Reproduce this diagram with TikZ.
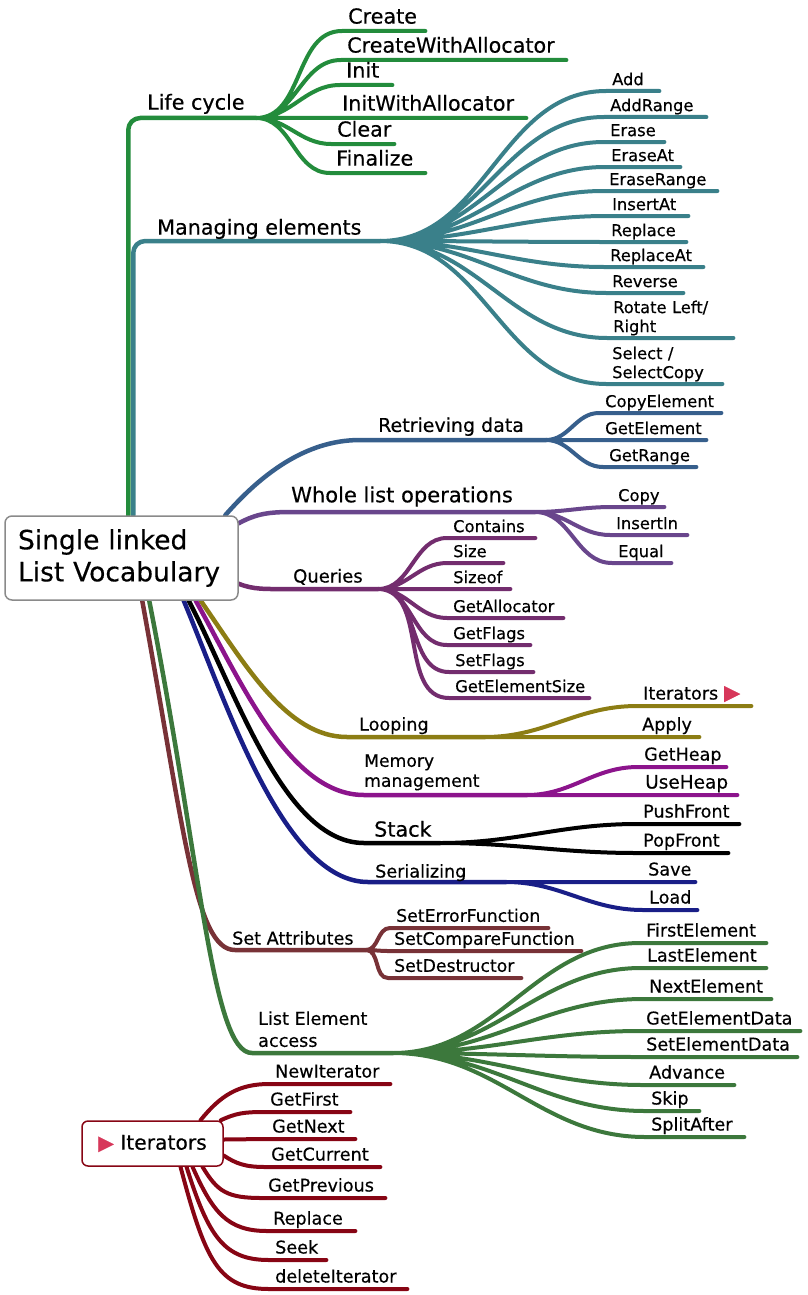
\documentclass[tikz,border=0pt]{standalone}
\usepackage{fontspec}
\setmainfont{DejaVu Sans}[FakeBold=0.4]
\usetikzlibrary{backgrounds}
\hyphenpenalty=10000
\exhyphenpenalty=10000

\definecolor{lcgreen}{HTML}{238C3C}
\definecolor{meteal}{HTML}{3A808A}
\definecolor{rdblue}{HTML}{375F8C}
\definecolor{wlpurple}{HTML}{69468C}
\definecolor{qupurple}{HTML}{732D6E}
\definecolor{lpolive}{HTML}{8C7D14}
\definecolor{mmmagenta}{HTML}{8C148C}
\definecolor{senavy}{HTML}{191E87}
\definecolor{sabrown}{HTML}{783237}
\definecolor{legreen}{HTML}{3C783C}
\definecolor{itred}{HTML}{870514}
\definecolor{trired}{HTML}{D7375A}
\definecolor{rootgray}{HTML}{8A8A8A}

\tikzset{
    branch/.style={line width=4.5pt, line cap=round, line join=round},
    twig/.style={line width=4pt, line cap=round, line join=round},
    topic/.style={anchor=south west, inner sep=0pt, align=left, execute at end node=\strut},
    leaf/.style={anchor=south west, inner xsep=6pt, inner ysep=0pt, align=left, execute at end node=\strut},
    bigfont/.style={font=\fontsize{20.7}{24}\selectfont},
    midfont/.style={font=\fontsize{17.6}{21}\selectfont},
    smallfont/.style={font=\fontsize{16.3}{19}\selectfont},
    rootbox/.style={draw=rootgray, line width=1.5pt, rounded corners=7pt, fill=white,
        minimum width=233pt, minimum height=84pt, text width=207pt, inner xsep=13pt,
        align=left, font=\fontsize{26.5}{32}\selectfont},
    itbox/.style={draw=itred, line width=1.5pt, rounded corners=6pt, fill=white,
        minimum width=141pt, minimum height=45pt, font=\fontsize{20.3}{23}\selectfont},
}

\begin{document}
\begin{tikzpicture}[x=1pt, y=-1pt]
\useasboundingbox (0,0) rectangle (807,1295);

\node[rootbox] (root) at (121.5,558) {Single linked\\List Vocabulary};
\node[itbox] (itbox) at (152.5,1143.5) {{\color{trired}▶} Iterators};

\coordinate (lc) at (256,118);
\coordinate (me) at (380,241);
\coordinate (rd) at (546,440);
\coordinate (wl) at (535,512);
\coordinate (qu) at (378,589);
\coordinate (lp) at (485,737);
\coordinate (mm) at (527,795);
\coordinate (sk) at (440,843);
\coordinate (se) at (506,882);
\coordinate (sa) at (366,950);
\coordinate (le) at (393,1053);

\node[topic, bigfont] (lifecycle) at (147,117) {Life cycle};
\node[topic, bigfont] (managing) at (157,242) {Managing elements};
\node[topic, font=\fontsize{19}{23}\selectfont] (retrieving) at (378,439) {Retrieving data};
\node[topic, font=\fontsize{21}{25}\selectfont] (wholelist) at (291,510) {Whole list operations};
\node[topic, font=\fontsize{18}{21}\selectfont] (queries) at (293,589) {Queries};
\node[topic, midfont] (looping) at (359,737) {Looping};
\node[topic, font=\fontsize{17.2}{20}\selectfont] (memory) at (364,793) {Memory\\management};
\node[topic, bigfont] (stack) at (374,844) {Stack};
\node[topic, midfont] (serializing) at (375,884) {Serializing};
\node[topic, midfont] (setattr) at (232,951) {Set Attributes};
\node[topic, font=\fontsize{17.6}{22}\selectfont] (listelement) at (258,1053.6) {List Element\\access};

\node[leaf, bigfont, text width=71pt] (create) at (342,31) {Create};
\node[leaf, bigfont, text width=213pt] (createwa) at (341,60) {CreateWithAllocator};
\node[leaf, bigfont, text width=40pt] (init) at (340,85) {Init};
\node[leaf, bigfont, text width=178pt] (initwa) at (336,118) {InitWithAllocator};
\node[leaf, bigfont, text width=51pt] (clear) at (331,144) {Clear};
\node[leaf, bigfont, text width=83pt] (finalize) at (330,173) {Finalize};

\node[leaf, smallfont, text width=41pt] (add) at (606,91) {Add};
\node[leaf, smallfont, text width=90pt] (addrange) at (604,117) {AddRange};
\node[leaf, smallfont, text width=48pt] (erase) at (604,142) {Erase};
\node[leaf, smallfont, text width=63pt] (eraseat) at (605,167) {EraseAt};
\node[leaf, smallfont, text width=102pt] (eraserange) at (603,191) {EraseRange};
\node[leaf, smallfont, text width=70pt] (insertat) at (606,216) {InsertAt};
\node[leaf, smallfont, text width=69pt] (replace) at (605,242) {Replace};
\node[leaf, smallfont, text width=87pt] (replaceat) at (604,267) {ReplaceAt};
\node[leaf, smallfont, text width=65pt] (reverse) at (606,293) {Reverse};
\node[leaf, smallfont, text width=114pt] (rotate) at (607,338) {Rotate Left/\\Right};
\node[leaf, smallfont, text width=104pt] (select) at (606,384) {Select /\\SelectCopy};

\node[leaf, smallfont, text width=110pt] (copyelement) at (599,413) {CopyElement};
\node[leaf, smallfont, text width=95pt] (getelement) at (599,440) {GetElement};
\node[leaf, smallfont, text width=81pt] (getrange) at (603,467) {GetRange};

\node[leaf, smallfont, text width=40pt] (copy) at (612,507) {Copy};
\node[leaf, smallfont, text width=65pt] (insertin) at (610,535) {InsertIn};
\node[leaf, smallfont, text width=47pt] (equal) at (612,563) {Equal};

\node[leaf, smallfont, text width=76pt] (contains) at (447,538) {Contains};
\node[leaf, smallfont, text width=44pt] (size) at (447,563) {Size};
\node[leaf, smallfont, text width=51pt] (sizeof) at (447,589) {Sizeof};
\node[leaf, smallfont, text width=104pt] (getallocator) at (447,618) {GetAllocator};
\node[leaf, smallfont, text width=71pt] (getflags) at (447,645) {GetFlags};
\node[leaf, smallfont, text width=72pt] (setflags) at (449,672) {SetFlags};
\node[leaf, smallfont, text width=128pt] (getelementsize) at (449,698) {GetElementSize};

\node[leaf, midfont, text width=102pt] (iterlink) at (637,706) {Iterators {\fontsize{21}{21}\selectfont\color{trired}▶}};
\node[leaf, midfont, text width=51pt] (apply) at (636,737) {Apply};

\node[leaf, midfont, text width=76pt] (getheap) at (638,767) {GetHeap};
\node[leaf, font=\fontsize{18.5}{21}\selectfont, text width=86pt] (useheap) at (639,795) {UseHeap};

\node[leaf, midfont, text width=90pt] (pushfront) at (637,824) {PushFront};
\node[leaf, midfont, text width=79pt] (popfront) at (637,853) {PopFront};

\node[leaf, midfont, text width=41pt] (save) at (642,882) {Save};
\node[leaf, midfont, text width=42pt] (load) at (643,910) {Load};

\node[leaf, font=\fontsize{17.3}{20}\selectfont, text width=146pt] (seterror) at (390,928) {SetErrorFunction};
\node[leaf, font=\fontsize{17.3}{20}\selectfont, text width=181pt] (setcompare) at (388,951) {SetCompareFunction};
\node[leaf, font=\fontsize{17.3}{20}\selectfont, text width=121pt] (setdestructor) at (388,978) {SetDestructor};

\node[leaf, midfont, text width=114pt] (firstelement) at (640,943) {FirstElement};
\node[leaf, midfont, text width=113pt] (lastelement) at (641,968) {LastElement};
\node[leaf, midfont, text width=116pt] (nextelement) at (643,999) {NextElement};
\node[leaf, midfont, text width=148pt] (getelementdata) at (640,1031) {GetElementData};
\node[leaf, midfont, text width=145pt] (setelementdata) at (640,1057) {SetElementData};
\node[leaf, midfont, text width=79pt] (advance) at (643,1085) {Advance};
\node[leaf, midfont, text width=42pt] (skip) at (645,1111) {Skip};
\node[leaf, midfont, text width=87pt] (splitafter) at (645,1137) {SplitAfter};

\node[leaf, midfont, text width=109pt] (newiter) at (269,1084) {NewIterator};
\node[leaf, midfont, text width=74pt] (getfirst) at (264,1112) {GetFirst};
\node[leaf, midfont, text width=77pt] (getnext) at (266,1139) {GetNext};
\node[leaf, midfont, text width=103pt] (getcurrent) at (265,1167) {GetCurrent};
\node[leaf, midfont, text width=111pt] (getprevious) at (262,1198) {GetPrevious};
\node[leaf, midfont, text width=76pt] (itreplace) at (267,1231) {Replace};
\node[leaf, midfont, text width=45pt] (seek) at (269,1260) {Seek};
\node[leaf, midfont, text width=126pt] (deleteiter) at (269,1289) {deleteIterator};

\begin{scope}[on background layer]
\draw[branch, lcgreen, rounded corners=12pt]
    ([shift={(124,0)}]root.north west) |- (lc);
\draw[branch, meteal, rounded corners=12pt]
    ([shift={(129,0)}]root.north west) |- (me);
\draw[branch, rdblue]
    ([shift={(221,0)}]root.north west) .. controls +(35,-40) and +(-55,0) .. (360,440) -- (rd);
\draw[branch, wlpurple]
    ([shift={(0,8)}]root.north east) .. controls +(15,-8) and +(-25,0) .. (290,512) -- (wl);
\draw[branch, qupurple]
    ([shift={(0,-17)}]root.south east) .. controls +(15,6) and +(-25,0) .. (290,589) -- (qu);
\draw[branch, lpolive]
    ([shift={(-38,0)}]root.south east) .. controls +(45,65) and +(-60,0) .. (347,737) -- (lp);
\draw[branch, mmmagenta]
    ([shift={(-43,0)}]root.south east) .. controls +(45,80) and +(-75,0) .. (364,795) -- (mm);
\draw[branch, senavy]
    ([shift={(-55,0)}]root.south east) .. controls +(42,100) and +(-85,0) .. (368,882) -- (se);
\draw[branch, black]
    ([shift={(-50,0)}]root.south east) .. controls +(47,90) and +(-80,0) .. (364,843) -- (sk);
\draw[branch, sabrown]
    ([shift={(138,0)}]root.south west) .. controls +(42,230) and +(-40,0) .. (235,950) -- (sa);
\draw[branch, legreen]
    ([shift={(145,0)}]root.south west) .. controls +(52,265) and +(-40,0) .. (252,1053) -- (le);

\draw[twig, lcgreen]
    (lc) to[out=0, in=180] (create.south west) -- (create.south east)
    (lc) to[out=0, in=180] (createwa.south west) -- (createwa.south east)
    (lc) to[out=0, in=180] (init.south west) -- (init.south east)
    (lc) to[out=0, in=180] (initwa.south west) -- (initwa.south east)
    (lc) to[out=0, in=180] (clear.south west) -- (clear.south east)
    (lc) to[out=0, in=180] (finalize.south west) -- (finalize.south east);
\draw[twig, meteal]
    (me) to[out=0, in=180] (add.south west) -- (add.south east)
    (me) to[out=0, in=180] (addrange.south west) -- (addrange.south east)
    (me) to[out=0, in=180] (erase.south west) -- (erase.south east)
    (me) to[out=0, in=180] (eraseat.south west) -- (eraseat.south east)
    (me) to[out=0, in=180] (eraserange.south west) -- (eraserange.south east)
    (me) to[out=0, in=180] (insertat.south west) -- (insertat.south east)
    (me) to[out=0, in=180] (replace.south west) -- (replace.south east)
    (me) to[out=0, in=180] (replaceat.south west) -- (replaceat.south east)
    (me) to[out=0, in=180] (reverse.south west) -- (reverse.south east)
    (me) to[out=0, in=180] (rotate.south west) -- (rotate.south east)
    (me) to[out=0, in=180] (select.south west) -- (select.south east);
\draw[twig, rdblue]
    (rd) to[out=0, in=180] (copyelement.south west) -- (copyelement.south east)
    (rd) to[out=0, in=180] (getelement.south west) -- (getelement.south east)
    (rd) to[out=0, in=180] (getrange.south west) -- (getrange.south east);
\draw[twig, wlpurple]
    (wl) to[out=0, in=180] (copy.south west) -- (copy.south east)
    (wl) to[out=0, in=180] (insertin.south west) -- (insertin.south east)
    (wl) to[out=0, in=180] (equal.south west) -- (equal.south east);
\draw[twig, qupurple]
    (qu) to[out=0, in=180] (contains.south west) -- (contains.south east)
    (qu) to[out=0, in=180] (size.south west) -- (size.south east)
    (qu) to[out=0, in=180] (sizeof.south west) -- (sizeof.south east)
    (qu) to[out=0, in=180] (getallocator.south west) -- (getallocator.south east)
    (qu) to[out=0, in=180] (getflags.south west) -- (getflags.south east)
    (qu) to[out=0, in=180] (setflags.south west) -- (setflags.south east)
    (qu) to[out=0, in=180] (getelementsize.south west) -- (getelementsize.south east);
\draw[twig, lpolive]
    (lp) to[out=0, in=180] (iterlink.south west) -- (iterlink.south east)
    (lp) -- (apply.south west) -- (apply.south east);
\draw[twig, mmmagenta]
    (mm) to[out=0, in=180] (getheap.south west) -- (getheap.south east)
    (mm) -- (useheap.south west) -- (useheap.south east);
\draw[twig, black]
    (sk) to[out=0, in=180] (pushfront.south west) -- (pushfront.south east)
    (sk) to[out=0, in=180] (popfront.south west) -- (popfront.south east);
\draw[twig, senavy]
    (se) -- (save.south west) -- (save.south east)
    (se) to[out=0, in=180] (load.south west) -- (load.south east);
\draw[twig, sabrown]
    (sa) to[out=0, in=180] (seterror.south west) -- (seterror.south east)
    (sa) to[out=0, in=180] (setcompare.south west) -- (setcompare.south east)
    (sa) to[out=0, in=180] (setdestructor.south west) -- (setdestructor.south east);
\draw[twig, legreen]
    (le) to[out=0, in=180] (firstelement.south west) -- (firstelement.south east)
    (le) to[out=0, in=180] (lastelement.south west) -- (lastelement.south east)
    (le) to[out=0, in=180] (nextelement.south west) -- (nextelement.south east)
    (le) to[out=0, in=180] (getelementdata.south west) -- (getelementdata.south east)
    (le) to[out=0, in=180] (setelementdata.south west) -- (setelementdata.south east)
    (le) to[out=0, in=180] (advance.south west) -- (advance.south east)
    (le) to[out=0, in=180] (skip.south west) -- (skip.south east)
    (le) to[out=0, in=180] (splitafter.south west) -- (splitafter.south east);
\draw[twig, itred]
    ([shift={(48,0)}]itbox.north) .. controls +(20,-25) and +(-30,0) .. (newiter.south west) -- (newiter.south east)
    ([shift={(-3,0)}]itbox.north east) .. controls +(15,-7) and +(-20,0) .. (getfirst.south west) -- (getfirst.south east)
    ([shift={(0,-4)}]itbox.east) -- (getnext.south west) -- (getnext.south east)
    ([shift={(0,12)}]itbox.east) .. controls +(12,8) and +(-20,0) .. (getcurrent.south west) -- (getcurrent.south east)
    ([shift={(50,0)}]itbox.south) .. controls +(15,25) and +(-35,0) .. (getprevious.south west) -- (getprevious.south east)
    ([shift={(40,0)}]itbox.south) .. controls +(20,45) and +(-40,0) .. (itreplace.south west) -- (itreplace.south east)
    ([shift={(34,0)}]itbox.south) .. controls +(22,70) and +(-45,0) .. (seek.south west) -- (seek.south east)
    ([shift={(28,0)}]itbox.south) .. controls +(25,95) and +(-50,0) .. (deleteiter.south west) -- (deleteiter.south east);
\end{scope}
\end{tikzpicture}
\end{document}
